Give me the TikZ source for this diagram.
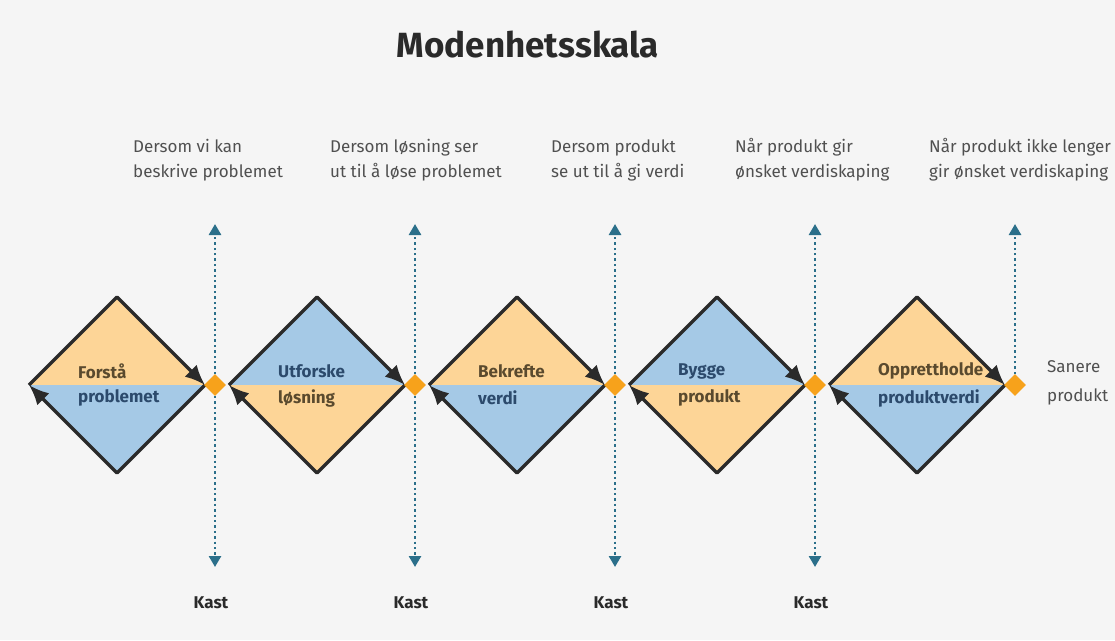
\documentclass[tikz,border=0pt]{standalone}
\usepackage{fontspec}
\setmainfont{Fira Sans}
\usetikzlibrary{arrows.meta,shapes.geometric}
\definecolor{bg}{HTML}{F5F5F5}
\definecolor{or}{HTML}{FDD597}
\definecolor{bl}{HTML}{A5C9E6}
\definecolor{ortxt}{HTML}{5A4A2E}
\definecolor{bltxt}{HTML}{2C4A6C}
\definecolor{dotc}{HTML}{F7A21B}
\definecolor{vline}{HTML}{2B6F8A}
\definecolor{greytxt}{HTML}{505050}
\definecolor{dark}{HTML}{2A2A2A}
\tikzset{
  edge/.style={line width=3.4pt, draw=dark, line join=round},
  edgearrow/.style={edge, -{Latex[length=20pt,width=17pt]}},
  vdots/.style={line width=2.6pt, draw=vline, dash pattern=on 2.4pt off 3pt},
  vtip/.style={-{Triangle[length=11pt,width=12pt]}},
  stagedot/.style={diamond, fill=dotc, inner sep=0pt, minimum width=22pt, minimum height=22pt},
  cond/.style={anchor=west, align=left, inner sep=0pt, text=greytxt, font=\fontsize{17}{25}\selectfont},
  lbl/.style={anchor=west, inner sep=0pt, font=\fontsize{17}{20}\selectfont\bfseries},
  kast/.style={inner sep=0pt, text=dark, font=\fontsize{17}{20}\selectfont\bfseries},
}
\begin{document}
\begin{tikzpicture}[x=1pt,y=-1pt]
\fill[bg] (0,0) rectangle (1115,640);
\useasboundingbox (0,0) rectangle (1115,640);

\node[text=dark, inner sep=0pt, font=\fontsize{35}{40}\selectfont\bfseries] (title) at (528,45) {Modenhetsskala};

\node[cond] (c1) at (133,160) {Dersom vi kan\\beskrive problemet};
\node[cond] (c2) at (330,160) {Dersom løsning ser\\ut til å løse problemet};
\node[cond] (c3) at (551,160) {Dersom produkt\\se ut til å gi verdi};
\node[cond] (c4) at (735,160) {Når produkt gir\\ønsket verdiskaping};
\node[cond] (c5) at (929,160) {Når produkt ikke lenger\\gir ønsket verdiskaping};

\foreach \i/\cx/\ct/\cb/\la/\lb in {
  1/117/or/bl/Forstå/problemet,
  2/317/bl/or/Utforske/løsning,
  3/517/or/bl/Bekrefte/verdi,
  4/717/bl/or/Bygge/produkt,
  5/917/or/bl/Opprettholde/produktverdi}{
  \coordinate (L\i) at (\cx-88,385);
  \coordinate (T\i) at (\cx,297);
  \coordinate (R\i) at (\cx+88,385);
  \coordinate (B\i) at (\cx,473);
  \fill[\ct] (L\i) -- (T\i) -- (R\i) -- cycle;
  \fill[\cb] (L\i) -- (B\i) -- (R\i) -- cycle;
  \node[lbl, text=\ct txt] (la\i) at (\cx-39,371) {\la};
  \node[lbl, text=\cb txt] (lb\i) at (\cx-39,398) {\lb};
  \draw[edgearrow] (L\i) -- (T\i) -- (R\i);
  \draw[edgearrow] (R\i) -- (B\i) -- (L\i);
  \coordinate (up\i) at (\cx+98,224);
}

\foreach \i/\cx in {1/117,2/317,3/517,4/717}{
  \coordinate (dn\i) at (\cx+98,567);
  \draw[vdots, vtip] (\cx+98,385) -- (up\i);
  \draw[vdots, vtip] (\cx+98,385) -- (dn\i);
  \node[kast] (k\i) at (\cx+94,603) {Kast};
}
\draw[vdots, vtip] (1015,385) -- (up5);

\foreach \i/\cx in {1/117,2/317,3/517,4/717,5/917}{
  \node[stagedot] (d\i) at (\cx+98,385) {};
}

\node[anchor=west, align=left, inner sep=0pt, text=greytxt, font=\fontsize{17}{29}\selectfont] (san) at (1047,383) {Sanere\\produkt};
\end{tikzpicture}
\end{document}
